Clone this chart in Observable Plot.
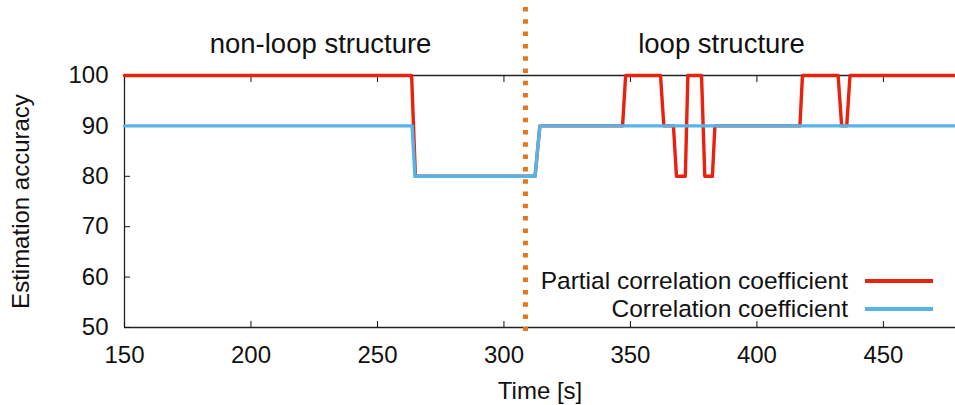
<!DOCTYPE html>
<html>
<head>
<meta charset="utf-8">
<script src="https://cdn.jsdelivr.net/npm/d3@7"></script>
<script src="https://cdn.jsdelivr.net/npm/@observablehq/plot@0.6"></script>
<style>
  html, body { margin: 0; padding: 0; background: #fff; }
  #wrap { position: relative; width: 955px; height: 405px; font-family: "Liberation Sans", Arial, sans-serif; overflow: hidden; }
  .leg { position: absolute; font-size: 24.5px; color: #111; display: flex; align-items: center; justify-content: flex-end; white-space: nowrap; height: 23px; }
  .leg span.txt { display: inline-block; height: 22px; line-height: 22px; overflow: visible; }
  .leg span.sw { display: inline-block; width: 68px; height: 4px; margin-left: 17px; }
</style>
</head>
<body>
<div id="wrap"></div>
<script>
// Partial correlation coefficient (red)
const partialTime  = [150, 263.5, 265, 312.3, 314.2, 346.9, 348.1, 361.9, 363.2, 367.0, 368.2, 371.7, 372.7, 378.1, 379.4, 382.4, 383.4, 417.0, 418.0, 432.1, 433.5, 435.5, 436.8, 480];
const partialValue = [100, 100,   80,  80,    90,    90,    100,   100,   90,    90,    80,    80,    100,   100,   80,    80,    90,    90,    100,   100,   90,    90,    100,   100];
// Correlation coefficient (blue)
const corrTime  = [150, 263.7, 264.8, 312.3, 314.2, 480];
const corrValue = [90,  90,    80,    80,    90,    90];
// structure switch time
const switchTime = [308.5];
// section annotations
const sectionNames = ["non-loop structure", "loop structure"];
const sectionX = [227.5, 386];
// axis ticks
const xTicks = [150, 200, 250, 300, 350, 400, 450];
const yTicks = [50, 60, 70, 80, 90, 100];
const seriesNames = ["Partial correlation coefficient", "Correlation coefficient"];
const seriesColors = ["#e8220f", "#56b4e9"];

const partial = partialTime.map((t, i) => ({t, v: partialValue[i]}));
const corr = corrTime.map((t, i) => ({t, v: corrValue[i]}));
const sections = sectionNames.map((name, i) => ({name, x: sectionX[i]}));

const chart = Plot.plot({
  width: 955,
  height: 405,
  marginLeft: 124,
  marginRight: 0,
  marginTop: 75,
  marginBottom: 78,
  style: {fontFamily: "'Liberation Sans', Arial, sans-serif", fontSize: "24px", color: "#111", background: "#fff", overflow: "visible"},
  x: {domain: [150, 478.5]},
  y: {domain: [50, 100]},
  marks: [
    Plot.ruleY([50, 100], {stroke: "#222", strokeWidth: 1.3}),
    Plot.ruleX([150], {stroke: "#222", strokeWidth: 1.3}),
    Plot.axisX({ticks: xTicks, tickSize: -6, tickPadding: 24, fontSize: 24, label: "Time [s]", labelAnchor: "center", labelOffset: 71, labelArrow: false}),
    Plot.axisX({anchor: "top", ticks: xTicks, tickSize: -6, tickFormat: () => "", label: null}),
    Plot.axisY({ticks: yTicks, tickSize: -6, tickPadding: 22, fontSize: 24, label: "Estimation accuracy", labelAnchor: "center", labelOffset: 113, labelArrow: false}),
    Plot.line(partial, {x: "t", y: "v", stroke: seriesColors[0], strokeWidth: 3.4}),
    Plot.line(corr, {x: "t", y: "v", stroke: seriesColors[1], strokeWidth: 3.4}),
    Plot.ruleX(switchTime, {stroke: "#e5761b", strokeWidth: 5, strokeDasharray: "4.5,7.8", insetTop: -68, insetBottom: -4, strokeLinecap: "butt"}),
    Plot.text(sections, {x: "x", text: "name", frameAnchor: "top", dy: -42, fontSize: 27.5, fill: "#111"})
  ]
});

const wrap = document.getElementById("wrap");
wrap.appendChild(chart);

// legend
const legTops = [269, 297];
seriesNames.forEach((name, i) => {
  const d = document.createElement("div");
  d.className = "leg";
  d.style.right = (955 - 933) + "px";
  d.style.top = legTops[i] + "px";
  d.innerHTML = `<span class="txt">${name}</span><span class="sw" style="background:${seriesColors[i]}"></span>`;
  wrap.appendChild(d);
});
</script>
</body>
</html>
